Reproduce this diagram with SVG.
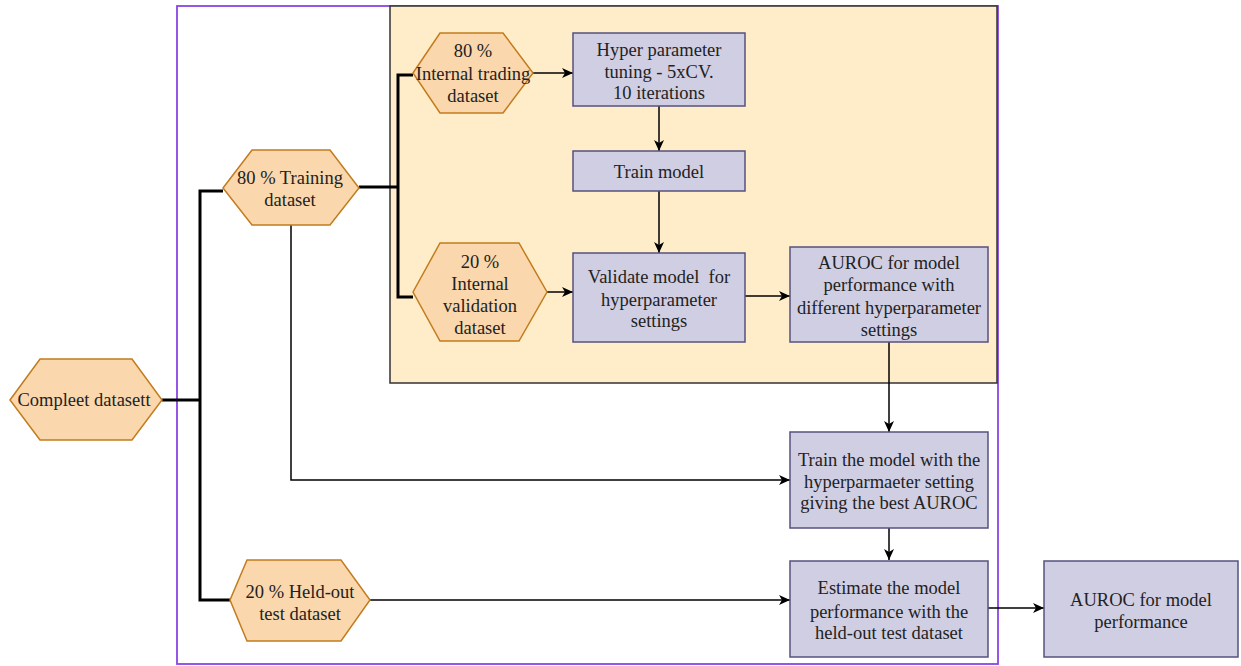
<svg xmlns="http://www.w3.org/2000/svg" width="1241" height="666" viewBox="0 0 1241 666">
<defs>
<style>
.hex{fill:#fad7ac;stroke:#c27c1e;stroke-width:1.5}
.box{fill:#d0cee2;stroke:#56517e;stroke-width:1.5}
.t{font-family:"Liberation Serif","Times New Roman",serif;font-size:18.5px;fill:#222;text-anchor:middle}
.thick{fill:none;stroke:#000;stroke-width:3}
.arr{fill:none;stroke:#000;stroke-width:1.5;marker-end:url(#ah)}
.thin{fill:none;stroke:#000;stroke-width:1.5}
</style>
<marker id="ah" markerUnits="userSpaceOnUse" markerWidth="12" markerHeight="10" refX="11" refY="5" orient="auto">
<path d="M0,0 L11,5 L0,10 L3,5 z" fill="#000"/>
</marker>
</defs>
<rect width="1241" height="666" fill="#fff"/>
<g id="containers">
<rect x="177" y="6" width="821" height="658" fill="none" stroke="#8b44e6" stroke-width="1.8"/>
<rect x="390" y="6" width="607" height="377" fill="#ffedc9" stroke="#333" stroke-width="1.5"/>
</g>
<g id="connectors">
<polyline class="thick" points="162,400 200,400"/>
<polyline class="thick" points="223,191 200,191 200,600 230,600"/>
<polyline class="thick" points="359,187 398,187"/>
<polyline class="thick" points="413,75 398,75 398,297 413,297"/>
<line class="arr" x1="533" y1="73" x2="573" y2="73"/>
<line class="arr" x1="659" y1="106" x2="659" y2="151"/>
<line class="arr" x1="659" y1="191" x2="659" y2="253"/>
<line class="arr" x1="547" y1="292" x2="573" y2="292"/>
<line class="arr" x1="745" y1="296" x2="790" y2="296"/>
<line class="arr" x1="889" y1="342" x2="889" y2="432"/>
<polyline class="arr" points="291,225 291,480 790,480"/>
<line class="arr" x1="889" y1="528" x2="889" y2="560"/>
<line class="arr" x1="370" y1="600" x2="790" y2="600"/>
<line class="arr" x1="988" y1="608" x2="1044" y2="608"/>
</g>
<g id="compleet">
<polygon class="hex" points="10,400 40,359 132,359 162,400 132,440 40,440"/>
<text class="t" x="84" y="406">Compleet datasett</text>
</g>
<g id="training">
<polygon class="hex" points="223,188 252,150 330,150 359,188 330,225 252,225"/>
<text class="t" x="290" y="184">80 % Training</text>
<text class="t" x="290" y="206">dataset</text>
</g>
<g id="internal-trading">
<polygon class="hex" points="413,73 440,33 503,33 533,73 503,113 440,113"/>
<text class="t" x="473" y="57">80 %</text>
<text class="t" x="473" y="80">Internal trading</text>
<text class="t" x="473" y="102">dataset</text>
</g>
<g id="hyper">
<rect class="box" x="573" y="33" width="172" height="73"/>
<text class="t" x="659" y="56">Hyper parameter</text>
<text class="t" x="659" y="78">tuning - 5xCV.</text>
<text class="t" x="659" y="99">10 iterations</text>
</g>
<g id="train-model">
<rect class="box" x="573" y="151" width="172" height="40"/>
<text class="t" x="659" y="178">Train model</text>
</g>
<g id="internal-validation">
<polygon class="hex" points="413,292 440,243 519,243 547,292 519,341 440,341"/>
<text class="t" x="480" y="268">20 %</text>
<text class="t" x="480" y="290">Internal</text>
<text class="t" x="480" y="312">validation</text>
<text class="t" x="480" y="334">dataset</text>
</g>
<g id="validate">
<rect class="box" x="573" y="253" width="172" height="89"/>
<text class="t" x="659" y="283" xml:space="preserve">Validate model  for</text>
<text class="t" x="659" y="306">hyperparameter</text>
<text class="t" x="659" y="327">settings</text>
</g>
<g id="auroc-hyper">
<rect class="box" x="790" y="247" width="198" height="95"/>
<text class="t" x="889" y="269">AUROC for model</text>
<text class="t" x="889" y="291">performance with</text>
<text class="t" x="889" y="314">different hyperparameter</text>
<text class="t" x="889" y="336">settings</text>
</g>
<g id="train-best">
<rect class="box" x="790" y="432" width="198" height="96"/>
<text class="t" x="889" y="466">Train the model with the</text>
<text class="t" x="889" y="488">hyperparmaeter setting</text>
<text class="t" x="889" y="509">giving the best AUROC</text>
</g>
<g id="heldout">
<polygon class="hex" points="230,600 247,560 341,560 370,600 341,641 247,641"/>
<text class="t" x="300" y="598">20 % Held-out</text>
<text class="t" x="300" y="620">test dataset</text>
</g>
<g id="estimate">
<rect class="box" x="790" y="561" width="198" height="96"/>
<text class="t" x="889" y="594">Estimate the model</text>
<text class="t" x="889" y="618">performance with the</text>
<text class="t" x="889" y="639">held-out test dataset</text>
</g>
<g id="auroc-final">
<rect class="box" x="1044" y="561" width="194" height="96"/>
<text class="t" x="1141" y="606">AUROC for model</text>
<text class="t" x="1141" y="628">performance</text>
</g>
</svg>
